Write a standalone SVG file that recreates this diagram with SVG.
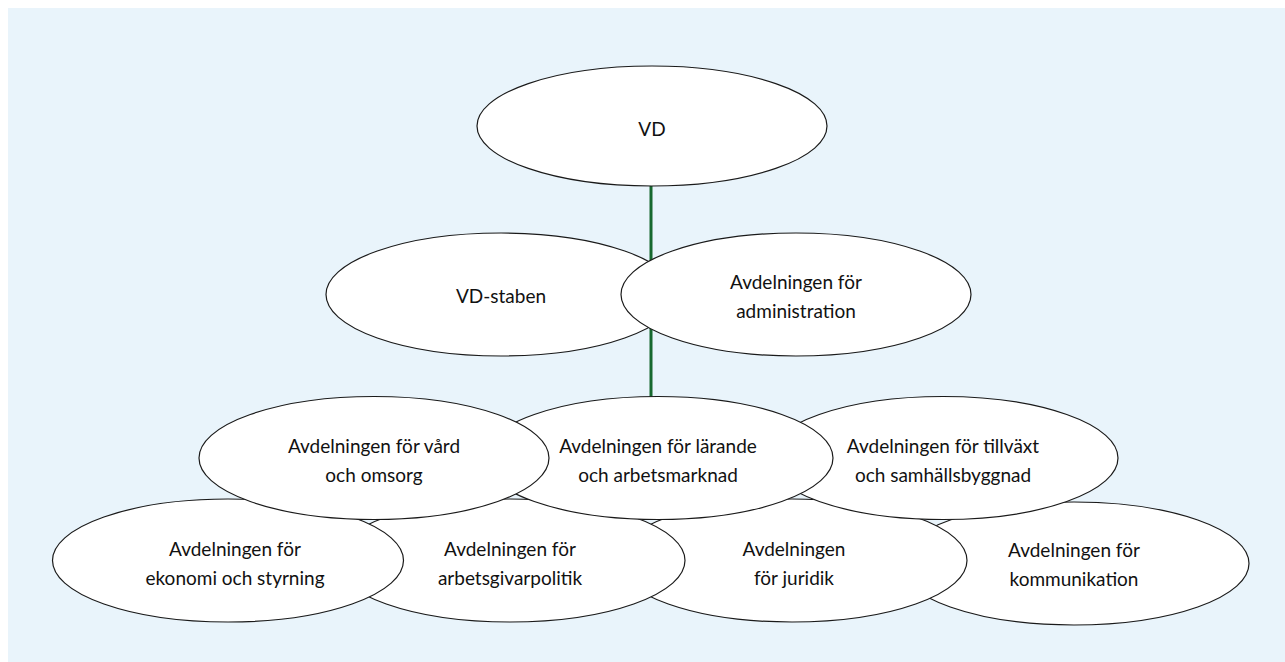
<svg xmlns="http://www.w3.org/2000/svg" width="1285" height="662" viewBox="0 0 1285 662">
<style>
.bg{fill:#e9f4fb}
.n{fill:#ffffff;stroke:#1a1a1a;stroke-width:1.2}
.t{font-family:Lato,"Liberation Sans",sans-serif;font-size:19px;fill:#111111;text-anchor:middle}
.c{stroke:#17692f;stroke-width:3;fill:none}
</style>
<rect class="bg" x="8" y="8" width="1277" height="654"/>
<g id="connectors">
<line class="c" x1="651" y1="186" x2="651" y2="398"/>
</g>
<g id="vd">
<ellipse class="n" cx="652" cy="126" rx="175" ry="60"/>
<text class="t" x="652" y="136">VD</text>
</g>
<g id="vd-staben">
<ellipse class="n" cx="501" cy="294.5" rx="175" ry="61.5"/>
<text class="t" x="501" y="303">VD-staben</text>
</g>
<g id="administration">
<ellipse class="n" cx="796" cy="294.5" rx="175" ry="61.5"/>
<text class="t" x="796" y="289">Avdelningen för</text>
<text class="t" x="796" y="318">administration</text>
</g>
<g id="kommunikation">
<ellipse class="n" cx="1074" cy="563.5" rx="175" ry="61.5"/>
<text class="t" x="1074" y="557">Avdelningen för</text>
<text class="t" x="1074" y="586">kommunikation</text>
</g>
<g id="juridik">
<ellipse class="n" cx="792" cy="560.5" rx="175" ry="61.5"/>
<text class="t" x="794" y="555.5">Avdelningen</text>
<text class="t" x="794" y="584.5">för juridik</text>
</g>
<g id="arbetsgivarpolitik">
<ellipse class="n" cx="510" cy="560.5" rx="175" ry="61.5"/>
<text class="t" x="510" y="555.5">Avdelningen för</text>
<text class="t" x="510" y="584.5">arbetsgivarpolitik</text>
</g>
<g id="ekonomi">
<ellipse class="n" cx="228" cy="560.5" rx="175.5" ry="61.5"/>
<text class="t" x="235" y="555.5">Avdelningen för</text>
<text class="t" x="235" y="584.5">ekonomi och styrning</text>
</g>
<g id="tillvaxt">
<ellipse class="n" cx="943" cy="458" rx="175" ry="61.5"/>
<text class="t" x="943" y="453">Avdelningen för tillväxt</text>
<text class="t" x="943" y="482">och samhällsbyggnad</text>
</g>
<g id="larande">
<ellipse class="n" cx="658" cy="458" rx="175" ry="61.5"/>
<text class="t" x="658" y="453">Avdelningen för lärande</text>
<text class="t" x="658" y="482">och arbetsmarknad</text>
</g>
<g id="vard">
<ellipse class="n" cx="374" cy="458" rx="175" ry="61.5"/>
<text class="t" x="374" y="453">Avdelningen för vård</text>
<text class="t" x="374" y="482">och omsorg</text>
</g>
</svg>
